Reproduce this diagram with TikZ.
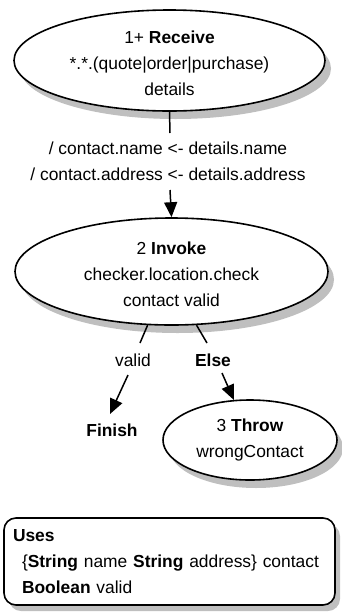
\documentclass[tikz,border=0pt]{standalone}
\usepackage{fontspec}
\setmainfont{Liberation Sans}
\usetikzlibrary{shapes.geometric,arrows.meta,shadows}
\begin{document}
\begin{tikzpicture}[x=1pt,y=-1pt,
  every node/.style={font=\fontsize{17.4}{26}\selectfont, inner sep=0pt},
  act/.style={ellipse, draw, line width=1.6pt, fill=white, align=center,
    drop shadow={shadow xshift=6pt, shadow yshift=-8pt, fill=black!25, opacity=1}},
  usesbox/.style={draw, line width=1.6pt, rounded corners=12pt, fill=white,
    drop shadow={shadow xshift=5pt, shadow yshift=-6pt, fill=black!25, opacity=1}},
  conn/.style={line width=1.5pt},
  arr/.style={line width=1.5pt, -{Triangle[length=15pt,width=13pt]}},
  lbl/.style={align=center}
]
\useasboundingbox (0,0) rectangle (341,614);

\node[act, minimum width=311pt, minimum height=101pt] (rcv) at (169.5,60.5)
  {\rule{0pt}{18pt}1+ \textbf{Receive}\\ *.*.(quote|order|purchase)\\ details};
\node[act, minimum width=313pt, minimum height=107pt] (inv) at (171.5,271.5)
  {\rule{0pt}{19pt}2 \textbf{Invoke}\\ checker.location.check\\ contact valid};
\node[act, minimum width=174pt, minimum height=80pt] (thr) at (250,440)
  {3 \textbf{Throw}\\ wrongContact};

\node[lbl] (map) at (168,161.5)
  {/ contact.name <- details.name\\ / contact.address <- details.address};
\node (valid) at (133,360) {valid};
\node (else) at (213,360) {\textbf{Else}};
\node (fin) at (112,430) {\textbf{Finish}};

\coordinate (c1) at (170,133);
\coordinate (c2) at (170,190);
\coordinate (v1) at (140,343);
\coordinate (v2) at (128,375);
\coordinate (v3) at (110,414);
\coordinate (e1) at (207,343);
\coordinate (e2) at (222,373);

\draw[conn] (rcv.south) -- (c1);
\draw[arr] (c2) -- (inv.north);
\draw[conn] (inv.246) -- (v1);
\draw[arr] (v2) -- (v3);
\draw[conn] (inv.295) -- (e1);
\draw[arr] (e2) -- (thr.112);

\node[usesbox, minimum width=331pt, minimum height=87pt, text width=313pt,
  inner xsep=9pt, align=left] (uses) at (169.5,561.5)
  {\textbf{Uses}\\ \hspace*{9pt}\{\textbf{String} name \textbf{String} address\} contact\\
   \hspace*{9pt}\textbf{Boolean} valid};
\end{tikzpicture}
\end{document}
